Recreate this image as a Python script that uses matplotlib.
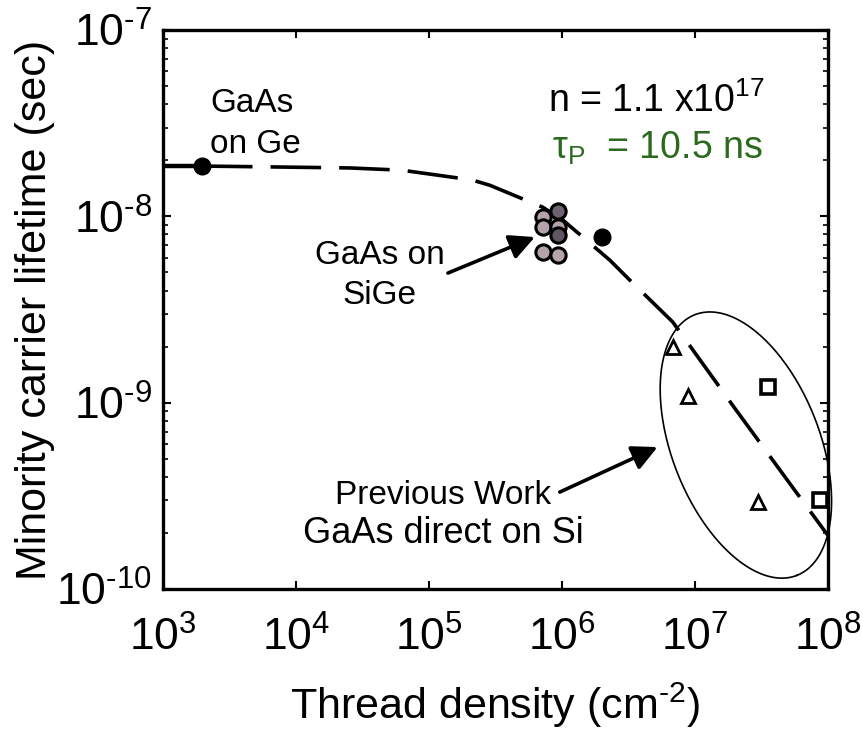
import numpy as np
import matplotlib
matplotlib.use("Agg")
import matplotlib.pyplot as plt
from matplotlib.ticker import FuncFormatter

plt.rcParams['font.family'] = ['Liberation Sans', 'DejaVu Sans']
plt.rcParams['mathtext.fontset'] = 'custom'
plt.rcParams['mathtext.rm'] = 'Liberation Sans'
plt.rcParams['mathtext.it'] = 'Liberation Sans:italic'
plt.rcParams['mathtext.default'] = 'regular'

# GaAs on Ge
ge_density = [1.96e3]
ge_lifetime = [1.86e-8]

# GaAs on SiGe (grey cluster) and one black point
sige_density = [9.3e5, 7.2e5, 7.2e5, 9.3e5, 9.4e5, 7.2e5, 9.3e5]
sige_lifetime = [1.07e-8, 9.9e-9, 8.77e-9, 8.77e-9, 7.94e-9, 6.43e-9, 6.2e-9]
sige_colors = ['#6c6270', '#b3a3aa', '#b3a3aa', '#b3a3aa', '#5e5662', '#b3a3aa', '#b3a3aa']
sige2_density = [2.0e6]
sige2_lifetime = [7.75e-9]

# previous work, GaAs direct on Si
tri_density = [6.84e6, 8.85e6, 2.98e7]
tri_lifetime = [1.99e-9, 1.08e-9, 2.92e-10]
sq_density = [3.54e7, 8.7e7]
sq_lifetime = [1.21e-9, 3.0e-10]

# model curve
fit_density = [1.96e3, 2.38e3, 7.98e3, 2.55e4, 6.27e4, 2.10e5, 2.87e5, 7.19e5,
               1.02e6, 2.30e6, 3.13e6, 6.84e6, 2.0e7, 5.17e7, 1.0e8]
fit_lifetime = [1.86e-8, 1.86e-8, 1.84e-8, 1.82e-8, 1.77e-8, 1.57e-8, 1.47e-8, 1.12e-8,
                9.55e-9, 5.82e-9, 4.67e-9, 2.71e-9, 9.35e-10, 3.70e-10, 1.95e-10]


def pow10(v, pos):
    e = int(round(np.log10(v)))
    if e < 0:
        return r'$10^{\text{-}%d}$' % (-e)
    return r'$10^{%d}$' % e


fig = plt.figure(figsize=(8.63, 7.34), dpi=100)
ax = fig.add_axes([0.189, 0.1975, 0.770, 0.7615])
ax.set_xscale('log')
ax.set_yscale('log')
ax.set_xlim(1e3, 1e8)
ax.set_ylim(1e-10, 1e-7)

# solid piece from the axis to the Ge point, then the dashed fit
ax.plot([1e3, ge_density[0]], [ge_lifetime[0], ge_lifetime[0]], color='k', lw=3.2,
        solid_capstyle='butt', clip_on=False)
ax.plot(fit_density, fit_lifetime, color='k', lw=2.6, dashes=(14, 5))

ax.plot(ge_density, ge_lifetime, 'o', ms=12, color='k')
for x, y, c in zip(sige_density, sige_lifetime, sige_colors):
    ax.plot([x], [y], 'o', ms=11, mfc=c, mec='k', mew=2.2)
ax.plot(sige2_density, sige2_lifetime, 'o', ms=12, color='k')
ax.plot(tri_density, tri_lifetime, '^', ms=10, mfc='white', mec='k', mew=2)
ax.plot(sq_density, sq_lifetime, 's', ms=10, mfc='white', mec='k', mew=2.6, clip_on=False)

# ellipse around previous work (drawn in pixel-like units on the axes)
t = np.linspace(0, 2 * np.pi, 300)
th = np.deg2rad(68.6)
a, b = 140, 74
dx = a * np.cos(t) * np.cos(th) - b * np.sin(t) * np.sin(th)
dy = a * np.cos(t) * np.sin(th) + b * np.sin(t) * np.cos(th)
ax.plot(0.877 + dx / 665, 0.2576 - dy / 559, color='k', lw=1.2,
        transform=ax.transAxes, clip_on=False)

for side in ax.spines.values():
    side.set_linewidth(2.4)
ax.tick_params(which='both', direction='in', top=True, right=True, labelsize=32)
ax.tick_params(axis='x', pad=20)
ax.tick_params(axis='y', pad=8)
ax.tick_params(which='major', length=6, width=1.5)
ax.tick_params(which='minor', length=3.5, width=1.2)
ax.set_xticks([1e3, 1e4, 1e5, 1e6, 1e7, 1e8])
ax.set_yticks([1e-10, 1e-9, 1e-8, 1e-7])
ax.xaxis.set_major_formatter(FuncFormatter(pow10))
ax.yaxis.set_major_formatter(FuncFormatter(pow10))

xl = ax.set_xlabel(r'Thread density (cm$^{\text{-}2}$)', fontsize=31)
yl = ax.set_ylabel('Minority carrier lifetime (sec)', fontsize=31)
ax.xaxis.set_label_coords(0.5, -0.2075)
ax.yaxis.set_label_coords(-0.1925, 0.5)
xl.set_va('center')
yl.set_va('center')

kw = dict(transform=ax.transAxes, fontsize=24, va='center')
ax.text(0.0707, 0.869, 'GaAs', **kw)
ax.text(0.0707, 0.796, 'on Ge', **kw)
ax.text(0.326, 0.5975, 'GaAs on', ha='center', **kw)
ax.text(0.326, 0.526, 'SiGe', ha='center', **kw)
ax.text(0.421, 0.168, 'Previous Work', transform=ax.transAxes, fontsize=24,
        va='center', ha='center')
ax.text(0.421, 0.100, 'GaAs direct on Si', transform=ax.transAxes, fontsize=26,
        va='center', ha='center')
ax.text(0.579, 0.872, 'n = 1.1 x10$^{17}$', transform=ax.transAxes, fontsize=27,
        va='center')
ax.text(0.585, 0.788, r'$\tau_{P}$  = 10.5 ns', transform=ax.transAxes, fontsize=27,
        va='center', color='#2b6a1f')

arrow = dict(arrowstyle='-|>', lw=2.6, color='k', mutation_scale=38, shrinkA=0, shrinkB=0)
ax.annotate('', xy=(0.5594, 0.6297), xytext=(0.4286, 0.5653), xycoords='axes fraction',
            textcoords='axes fraction', arrowprops=arrow)
ax.annotate('', xy=(0.744, 0.254), xytext=(0.597, 0.1735), xycoords='axes fraction',
            textcoords='axes fraction', arrowprops=arrow)

fig.savefig('out.png', dpi=100)
